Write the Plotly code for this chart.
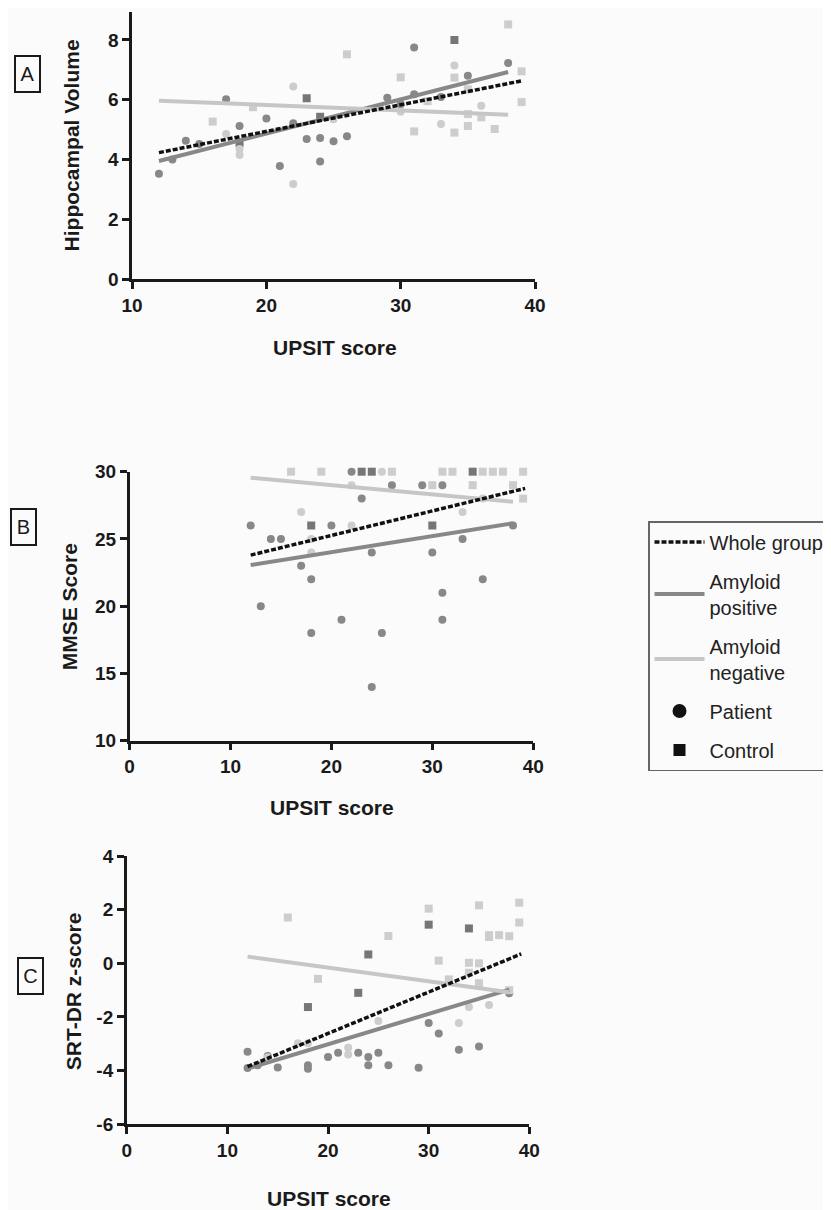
import plotly.graph_objects as go

FONT = "Liberation Sans"
INK = "#1a1a1a"
C_POS = "#888888"
C_POS_CTRL = "#767676"
C_NEG = "#cdcdcd"
C_NEG_LINE = "#c6c6c6"

# ---------------- Panel A: Hippocampal Volume ----------------
A_pos_pat_x = [12, 13, 14, 15, 17, 18, 20, 21, 22, 23, 24, 24, 25, 26, 29, 30, 31, 31, 33, 35, 38]
A_pos_pat_y = [3.52, 4.0, 4.63, 4.52, 6.02, 5.12, 5.37, 3.78, 5.21, 4.69, 4.72, 3.93, 4.61, 4.78,
               6.07, 5.85, 7.75, 6.18, 6.09, 6.8, 7.23]
A_pos_ctl_x = [18, 23, 24, 34]
A_pos_ctl_y = [4.55, 6.05, 5.43, 8.0]
A_neg_pat_x = [17, 18, 18, 22, 22, 25, 30, 33, 34, 36]
A_neg_pat_y = [4.85, 4.35, 4.15, 6.44, 3.18, 5.35, 5.6, 5.19, 7.15, 5.8]
A_neg_ctl_x = [16, 19, 26, 30, 31, 32, 34, 34, 35, 35, 35, 36, 37, 38, 39, 39]
A_neg_ctl_y = [5.27, 5.75, 7.52, 6.75, 4.94, 5.95, 6.74, 4.9, 5.12, 5.52, 6.35, 5.41, 5.02, 8.52, 6.95, 5.92]
A_fit_whole_x = [12, 39.1]
A_fit_whole_y = [4.23, 6.64]
A_fit_pos_x = [12, 38]
A_fit_pos_y = [3.95, 6.93]
A_fit_neg_x = [12, 38]
A_fit_neg_y = [5.97, 5.50]

# ---------------- Panel B: MMSE ----------------
B_pos_pat_x = [12, 13, 14, 15, 17, 18, 18, 20, 21, 22, 23, 24, 24, 25, 26, 29, 30, 31, 31, 31, 33, 35, 38]
B_pos_pat_y = [26, 20, 25, 25, 23, 22, 18, 26, 19, 30, 28, 24, 14, 18, 29, 29, 24, 29, 21, 19, 25, 22, 26]
B_pos_ctl_x = [18, 23, 24, 30, 34]
B_pos_ctl_y = [26, 30, 30, 26, 30]
B_neg_pat_x = [17, 18, 18, 22, 22, 25, 33, 35]
B_neg_pat_y = [27, 25, 24, 29, 26, 30, 27, 28]
B_neg_ctl_x = [16, 19, 26, 30, 31, 32, 34, 35, 36, 37, 38, 39, 39]
B_neg_ctl_y = [30, 30, 30, 29, 30, 30, 29, 30, 30, 30, 29, 30, 28]
B_fit_whole_x = [12, 39.2]
B_fit_whole_y = [23.8, 28.76]
B_fit_pos_x = [12, 38]
B_fit_pos_y = [23.06, 26.16]
B_fit_neg_x = [12, 38]
B_fit_neg_y = [29.55, 27.77]

# ---------------- Panel C: SRT-DR z-score ----------------
C_pos_pat_x = [12, 12, 13, 14, 15, 18, 18, 20, 21, 23, 24, 24, 25, 26, 29, 30, 31, 33, 35, 38]
C_pos_pat_y = [-3.3, -3.9, -3.8, -3.45, -3.88, -3.8, -3.93, -3.49, -3.33, -3.33, -3.49, -3.8, -3.33,
               -3.8, -3.89, -2.22, -2.62, -3.22, -3.1, -1.12]
C_pos_ctl_x = [18, 23, 24, 30, 34]
C_pos_ctl_y = [-1.63, -1.1, 0.33, 1.44, 1.3]
C_neg_pat_x = [14, 17, 18, 22, 22, 25, 33, 34, 36]
C_neg_pat_y = [-3.5, -2.98, -2.98, -3.15, -3.4, -2.15, -2.22, -1.63, -1.55]
C_neg_ctl_x = [16, 19, 26, 30, 31, 32, 34, 34, 35, 35, 35, 36, 36, 37, 38, 39, 39, 38]
C_neg_ctl_y = [1.71, -0.58, 1.02, 2.04, 0.1, -0.6, 0.02, -0.35, 2.16, 0.0, -0.74, 1.05, 0.98, 1.05,
               1.01, 2.26, 1.52, -1.0]
C_fit_whole_x = [12, 39.2]
C_fit_whole_y = [-3.85, 0.35]
C_fit_pos_x = [12, 38]
C_fit_pos_y = [-3.92, -0.98]
C_fit_neg_x = [12, 38]
C_fit_neg_y = [0.25, -1.08]

# tick values and labels
A_xticks = [10, 20, 30, 40]
A_yticks = [0, 2, 4, 6, 8]
B_xticks = [0, 10, 20, 30, 40]
B_yticks = [10, 15, 20, 25, 30]
C_xticks = [0, 10, 20, 30, 40]
C_yticks = [-6, -4, -2, 0, 2, 4]
C_ytick_labels = ["-6", "-4", "-2", "0", "2", "4"]

panels = [
    dict(xa="x", ya="y",
         pts=[(A_pos_pat_x, A_pos_pat_y, "circle", C_POS), (A_pos_ctl_x, A_pos_ctl_y, "square", C_POS_CTRL),
              (A_neg_pat_x, A_neg_pat_y, "circle", C_NEG), (A_neg_ctl_x, A_neg_ctl_y, "square", C_NEG)],
         fits=[(A_fit_whole_x, A_fit_whole_y), (A_fit_pos_x, A_fit_pos_y), (A_fit_neg_x, A_fit_neg_y)]),
    dict(xa="x2", ya="y2",
         pts=[(B_pos_pat_x, B_pos_pat_y, "circle", C_POS), (B_pos_ctl_x, B_pos_ctl_y, "square", C_POS_CTRL),
              (B_neg_pat_x, B_neg_pat_y, "circle", C_NEG), (B_neg_ctl_x, B_neg_ctl_y, "square", C_NEG)],
         fits=[(B_fit_whole_x, B_fit_whole_y), (B_fit_pos_x, B_fit_pos_y), (B_fit_neg_x, B_fit_neg_y)]),
    dict(xa="x3", ya="y3",
         pts=[(C_pos_pat_x, C_pos_pat_y, "circle", C_POS), (C_pos_ctl_x, C_pos_ctl_y, "square", C_POS_CTRL),
              (C_neg_pat_x, C_neg_pat_y, "circle", C_NEG), (C_neg_ctl_x, C_neg_ctl_y, "square", C_NEG)],
         fits=[(C_fit_whole_x, C_fit_whole_y), (C_fit_pos_x, C_fit_pos_y), (C_fit_neg_x, C_fit_neg_y)]),
]

fit_styles = [
    dict(name="Whole group", color="#111111", width=3.5, dash="5px,2px"),
    dict(name="Amyloid<br>positive", color=C_POS, width=4, dash="solid"),
    dict(name="Amyloid<br>negative", color=C_NEG_LINE, width=4, dash="solid"),
]

fig = go.Figure()
for i, p in enumerate(panels):
    for xs, ys, sym, col in p["pts"]:
        fig.add_trace(go.Scatter(x=xs, y=ys, mode="markers", xaxis=p["xa"], yaxis=p["ya"],
                                 marker=dict(symbol=sym, size=8, color=col, line=dict(width=0)),
                                 showlegend=False, cliponaxis=False, hoverinfo="skip"))
    # draw the two amyloid lines first, whole-group dashed line on top
    for k in (1, 2, 0):
        xs, ys = p["fits"][k]
        st = fit_styles[k]
        fig.add_trace(go.Scatter(x=xs, y=ys, mode="lines", xaxis=p["xa"], yaxis=p["ya"],
                                 line=dict(color=st["color"], width=st["width"], dash=st["dash"]),
                                 name=st["name"], legendgroup=st["name"], legendrank=k + 1,
                                 showlegend=(i == 0), cliponaxis=False, hoverinfo="skip"))

# legend-only entries for symbols
fig.add_trace(go.Scatter(x=[None], y=[None], mode="markers", name="Patient", legendgroup="Patient",
                         legendrank=4, marker=dict(symbol="circle", size=14, color="#111111")))
fig.add_trace(go.Scatter(x=[None], y=[None], mode="markers", name="Control", legendgroup="Control",
                         legendrank=5, marker=dict(symbol="square", size=12, color="#111111")))

# the page body adds an 8px margin; work in reference-pixel coordinates and shift
OFF = 8
W, H = 831 - OFF, 1210 - OFF


def dom_x(a, b):
    return [(a - OFF) / W, (b - OFF) / W]


def dom_y(top, bottom):
    return [1 - (bottom - OFF) / H, 1 - (top - OFF) / H]


def px(x):
    return (x - OFF) / W


def py(y):
    return 1 - (y - OFF) / H


axis_common = dict(showline=True, linecolor=INK, linewidth=2.5, ticks="outside", ticklen=7,
                   tickwidth=2.5, tickcolor=INK, showgrid=False, zeroline=False, fixedrange=True,
                   tickfont=dict(family=FONT, size=19, color=INK, weight="bold"))

fig.update_layout(
    width=W, height=H,
    margin=dict(l=0, r=0, t=0, b=0, autoexpand=False),
    paper_bgcolor="#fbfbfb", plot_bgcolor="#fbfbfb",
    font=dict(family=FONT, color=INK),
    xaxis=dict(domain=dom_x(132.1, 535.0), range=[10, 40], tickvals=A_xticks, anchor="y", **axis_common),
    yaxis=dict(domain=dom_y(11.6, 279.0), range=[0, 8.95], tickvals=A_yticks, anchor="x", **axis_common),
    xaxis2=dict(domain=dom_x(129.6, 533.2), range=[0, 40], tickvals=B_xticks, anchor="y2", **axis_common),
    yaxis2=dict(domain=dom_y(471.7, 740.7), range=[10, 30], tickvals=B_yticks, anchor="x2", **axis_common),
    xaxis3=dict(domain=dom_x(126.8, 529.3), range=[0, 40], tickvals=C_xticks, anchor="y3", **axis_common),
    yaxis3=dict(domain=dom_y(856.0, 1124.3), range=[-6, 4], tickvals=C_yticks, ticktext=C_ytick_labels,
                anchor="x3", **axis_common),
    legend=dict(x=px(648), y=py(521), xanchor="left", yanchor="top",
                bgcolor="rgba(0,0,0,0)", bordercolor="#666666", borderwidth=1.5,
                font=dict(family=FONT, size=20, color="#222222"), tracegroupgap=10,
                traceorder="grouped", itemwidth=50),
    showlegend=True,
)

title_font = dict(family=FONT, size=21, color=INK, weight="bold")
ann = []
# x titles
for cx, cy in [(335, 348), (332, 807), (329, 1198)]:
    ann.append(dict(text="UPSIT score", x=px(cx), y=py(cy), xref="paper", yref="paper",
                    showarrow=False, font=title_font, xanchor="center", yanchor="middle"))
# y titles
for txt, cx, cy in [("Hippocampal Volume", 71.4, 145), ("MMSE Score", 69.6, 606.7),
                    ("SRT-DR z-score", 73.2, 991)]:
    ann.append(dict(text=txt, x=px(cx), y=py(cy), xref="paper", yref="paper", textangle=-90,
                    showarrow=False, font=title_font, xanchor="center", yanchor="middle"))
# panel labels
for txt, cx, cy in [("A", 27.4, 74), ("B", 24, 526.5), ("C", 30, 976)]:
    ann.append(dict(text=txt, x=px(cx), y=py(cy), xref="paper", yref="paper", showarrow=False,
                    font=dict(family=FONT, size=20, color=INK), bordercolor=INK, borderwidth=2,
                    borderpad=1, width=21, height=32, xanchor="center", yanchor="middle"))
fig.update_layout(annotations=ann)

fig.write_html("out.html")
